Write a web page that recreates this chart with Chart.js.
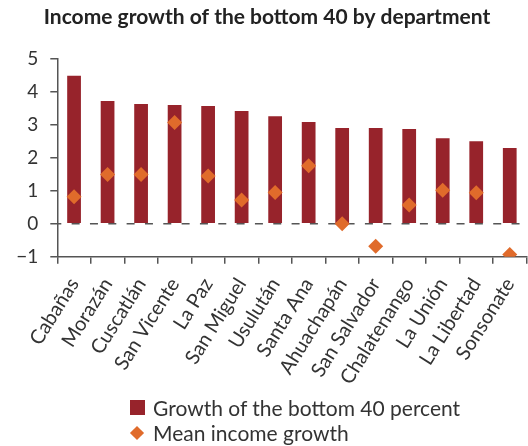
<!DOCTYPE html>
<html>
<head>
<meta charset="utf-8">
<script src="https://cdn.jsdelivr.net/npm/chart.js@4/dist/chart.umd.min.js"></script>
<style>
  html, body { margin: 0; padding: 0; background: #fff; overflow: hidden; width: 528px; height: 446px; }
  #wrap { position: relative; width: 534px; height: 446px; }
  canvas { display: block; }
  .lg { position: absolute; font-family: Lato, "Open Sans", sans-serif; font-size: 21px; line-height: 21px; color: #333; white-space: nowrap; }
  .sq { position: absolute; width: 15px; height: 15px; }
  .dm { position: absolute; width: 10px; height: 10px; transform: rotate(45deg); }
</style>
</head>
<body>
<div id="wrap">
  <canvas id="c" width="534" height="446"></canvas>
  <div class="sq" id="sqBar" style="left:130px; top:400px;"></div>
  <div class="lg" id="lgBar" style="left:153px; top:397px;"></div>
  <div class="dm" id="dmMean" style="left:132px; top:428px;"></div>
  <div class="lg" id="lgMean" style="left:153px; top:422px;"></div>
</div>
<script>
const categories = ['Cabañas','Morazán','Cuscatlán','San Vicente','La Paz','San Miguel','Usulután','Santa Ana','Ahuachapán','San Salvador','Chalatenango','La Unión','La Libertad','Sonsonate'];
const bottom40Growth = [4.50, 3.73, 3.64, 3.61, 3.58, 3.43, 3.27, 3.09, 2.91, 2.91, 2.88, 2.60, 2.51, 2.30];
const meanIncomeGrowth = [0.82, 1.50, 1.50, 3.08, 1.45, 0.72, 0.95, 1.76, 0.00, -0.68, 0.57, 1.02, 0.94, -0.93];
const yTickValues = [-1, 0, 1, 2, 3, 4, 5];
const seriesNames = ['Growth of the bottom 40 percent', 'Mean income growth'];
const titleText = 'Income growth of the bottom 40 by department';

const BAR_COLOR = '#97232b';
const DIAMOND_COLOR = '#e06b2b';
const AXIS_COLOR = '#555555';
const TEXT_COLOR = '#333333';

document.getElementById('sqBar').style.background = BAR_COLOR;
document.getElementById('dmMean').style.background = DIAMOND_COLOR;
document.getElementById('lgBar').textContent = seriesNames[0];
document.getElementById('lgMean').textContent = seriesNames[1];

const zeroLine = {
  id: 'zeroLine',
  afterDatasetDraw(chart, args) {
    if (args.index !== 0) return;
    const y = chart.scales.y.getPixelForValue(0);
    const { left, right } = chart.chartArea;
    const ctx = chart.ctx;
    ctx.save();
    ctx.strokeStyle = AXIS_COLOR;
    ctx.lineWidth = 1.6;
    ctx.setLineDash([8, 10.33]);
    ctx.lineDashOffset = 4;
    ctx.beginPath();
    ctx.moveTo(left, y);
    ctx.lineTo(right, y);
    ctx.stroke();
    ctx.restore();
  }
};

new Chart(document.getElementById('c'), {
  type: 'bar',
  data: {
    labels: categories,
    datasets: [
      {
        label: seriesNames[0],
        data: bottom40Growth,
        backgroundColor: BAR_COLOR,
        barPercentage: 0.41,
        categoryPercentage: 1.0,
        order: 1
      },
      {
        type: 'line',
        label: seriesNames[1],
        data: meanIncomeGrowth,
        showLine: false,
        pointStyle: 'rectRot',
        pointRadius: 7.5,
        pointHoverRadius: 7.5,
        pointBackgroundColor: DIAMOND_COLOR,
        pointBorderColor: DIAMOND_COLOR,
        pointBorderWidth: 0,
        order: 0
      }
    ]
  },
  options: {
    responsive: false,
    animation: false,
    layout: { padding: { left: 0, right: 0, top: 0, bottom: 0 } },
    plugins: {
      legend: { display: false },
      tooltip: { enabled: false },
      title: {
        display: true,
        text: titleText,
        color: '#222222',
        font: { family: 'Lato', size: 21, weight: 'bold' },
        padding: { top: 5, bottom: 29 }
      }
    },
    scales: {
      x: {
        offset: true,
        grid: { display: true, drawOnChartArea: false, drawTicks: true, tickLength: 7, color: AXIS_COLOR, lineWidth: 1.5, offset: true },
        border: { display: true, color: AXIS_COLOR, width: 1.5 },
        ticks: {
          color: TEXT_COLOR,
          font: { family: 'Lato', size: 20 },
          minRotation: 58,
          maxRotation: 58,
          autoSkip: false,
          padding: 10
        },
        afterFit(scale) {
          scale.height = 189.3;
          scale.paddingLeft = 0;
          scale.paddingRight = 0;
        }
      },
      y: {
        min: -1,
        max: 5,
        afterBuildTicks(scale) { scale.ticks = yTickValues.map(v => ({ value: v })); },
        grid: { display: true, drawOnChartArea: false, drawTicks: true, tickLength: 7, color: AXIS_COLOR, lineWidth: 1.5 },
        border: { display: true, color: AXIS_COLOR, width: 1.5 },
        ticks: {
          color: TEXT_COLOR,
          font: { family: 'Lato', size: 19 },
          padding: 12,
          callback: v => (v < 0 ? '\u2212' + Math.abs(v) : String(v))
        },
        afterFit(scale) { scale.width = 57.3; }
      }
    }
  },
  plugins: [zeroLine]
});
</script>
</body>
</html>
